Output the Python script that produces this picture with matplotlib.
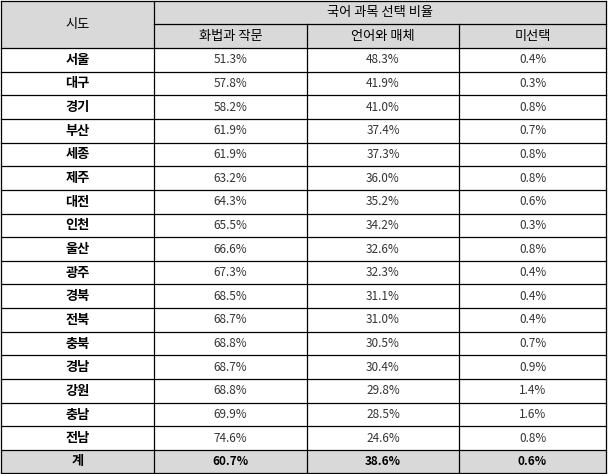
import matplotlib
matplotlib.use("Agg")
import matplotlib.pyplot as plt
from matplotlib.patches import Rectangle

plt.rcParams['font.family'] = ['Noto Sans CJK KR', 'DejaVu Sans']

regions = ["서울","대구","경기","부산","세종","제주","대전","인천","울산","광주","경북","전북","충북","경남","강원","충남","전남"]
hwabeop = [51.3,57.8,58.2,61.9,61.9,63.2,64.3,65.5,66.6,67.3,68.5,68.7,68.8,68.7,68.8,69.9,74.6]
eoneo = [48.3,41.9,41.0,37.4,37.3,36.0,35.2,34.2,32.6,32.3,31.1,31.0,30.5,30.4,29.8,28.5,24.6]
miseon = [0.4,0.3,0.8,0.7,0.8,0.8,0.6,0.3,0.8,0.4,0.4,0.4,0.7,0.9,1.4,1.6,0.8]
total_label = "계"
totals = [60.7,38.6,0.6]
title = "국어 과목 선택 비율"
first_col = "시도"
sub_cols = ["화법과 작문","언어와 매체","미선택"]

W, H = 609, 474
fig = plt.figure(figsize=(W/100, H/100), dpi=100)
ax = fig.add_axes([0,0,1,1])
ax.set_xlim(0, W); ax.set_ylim(H, 0); ax.axis('off')

xs = [1, 154, 307, 459, 606]
hdr = [1, 24, 48]
n = len(regions)
ytop, ybot = 48, 450
rh = (ybot - ytop) / n
grey = '#d9d9d9'
lw = 0.9

# fills
ax.add_patch(Rectangle((xs[0], hdr[0]), xs[-1]-xs[0], hdr[2]-hdr[0], color=grey, lw=0))
ax.add_patch(Rectangle((xs[0], ybot), xs[-1]-xs[0], 473-ybot, color=grey, lw=0))

# lines
ax.plot([xs[1], xs[-1]], [hdr[1], hdr[1]], color='k', lw=lw)
for i in range(n+1):
    y = ytop + i*rh
    ax.plot([xs[0], xs[-1]], [y, y], color='k', lw=lw)
ax.plot([xs[0], xs[-1]], [hdr[0], hdr[0]], color='k', lw=lw)
ax.plot([xs[0], xs[-1]], [473, 473], color='k', lw=lw)
for j, x in enumerate(xs):
    if j in (2, 3):
        ax.plot([x, x], [hdr[1], 473], color='k', lw=lw)
    else:
        ax.plot([x, x], [hdr[0], 473], color='k', lw=lw)

fs = 9.5
ax.text((xs[1]+xs[-1])/2, (hdr[0]+hdr[1])/2, title, ha='center', va='center', fontsize=fs)
ax.text((xs[0]+xs[1])/2, (hdr[0]+hdr[2])/2, first_col, ha='center', va='center', fontsize=fs)
for j, s in enumerate(sub_cols):
    ax.text((xs[j+1]+xs[j+2])/2, (hdr[1]+hdr[2])/2, s, ha='center', va='center', fontsize=fs)

for i, r in enumerate(regions):
    yc = ytop + (i+0.5)*rh
    ax.text((xs[0]+xs[1])/2, yc, r, ha='center', va='center', fontsize=fs, fontweight='bold')
    for j, v in enumerate([hwabeop[i], eoneo[i], miseon[i]]):
        ax.text((xs[j+1]+xs[j+2])/2, yc, f"{v:.1f}%", ha='center', va='center', fontsize=8.5, color='#333333')

yc = (ybot + 473)/2
ax.text((xs[0]+xs[1])/2, yc, total_label, ha='center', va='center', fontsize=fs, fontweight='bold')
for j, v in enumerate(totals):
    ax.text((xs[j+1]+xs[j+2])/2, yc, f"{v:.1f}%", ha='center', va='center', fontsize=8.5, fontweight='bold')

fig.savefig("out.png", dpi=100)
